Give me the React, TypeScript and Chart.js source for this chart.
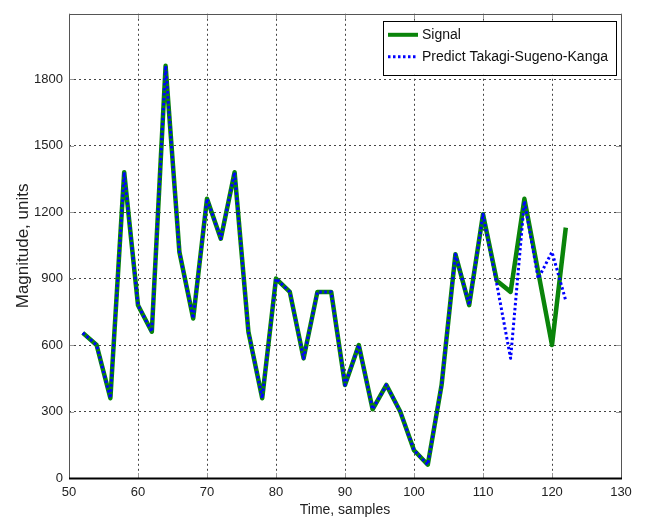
import React, { useEffect, useRef } from "react";
import { Chart, registerables } from "chart.js";

Chart.register(...registerables);

const samples = [52, 54, 56, 58, 60, 62, 64, 66, 68, 70, 72, 74, 76, 78, 80, 82, 84, 86, 88, 90, 92, 94, 96, 98, 100, 102, 104, 106, 108, 110, 112, 114, 116, 118, 120, 122];
const signal = [655, 600, 360, 1380, 780, 660, 1860, 1020, 720, 1260, 1080, 1380, 660, 360, 900, 840, 540, 840, 840, 420, 600, 310, 420, 300, 125, 60, 420, 1010, 780, 1190, 890, 840, 1260, 930, 600, 1130];
const predict = [655, 600, 360, 1380, 780, 660, 1860, 1020, 720, 1260, 1080, 1380, 660, 360, 900, 840, 540, 840, 840, 420, 600, 310, 420, 300, 125, 60, 420, 1010, 780, 1190, 875, 540, 1250, 900, 1020, 800];
const xTicks = [50, 60, 70, 80, 90, 100, 110, 120, 130];
const yTicks = [0, 300, 600, 900, 1200, 1500, 1800];
const seriesLabels = ["Signal", "Predict Takagi-Sugeno-Kanga"];
const xTitle = "Time, samples";
const yTitle = "Magnitude, units";

const GREEN = "#0a840a";
const BLUE = "#0000ff";
const FONT = "'Liberation Sans', Arial, Helvetica, sans-serif";

const framePlugin = {
  id: "frame",
  afterDatasetsDraw(chart: any) {
    const { ctx, chartArea: a, scales } = chart;
    ctx.save();
    ctx.lineWidth = 1;
    ctx.setLineDash([]);
    ctx.strokeStyle = "#999";
    const tl = 5;
    ctx.beginPath();
    for (const v of xTicks) {
      const x = Math.round(scales.x.getPixelForValue(v)) + 0.5;
      ctx.moveTo(x, a.top);
      ctx.lineTo(x, a.top + tl);
      ctx.moveTo(x, a.bottom);
      ctx.lineTo(x, a.bottom - tl);
    }
    for (const v of yTicks) {
      const y = Math.round(scales.y.getPixelForValue(v)) + 0.5;
      ctx.moveTo(a.left, y);
      ctx.lineTo(a.left + tl, y);
      ctx.moveTo(a.right, y);
      ctx.lineTo(a.right - tl, y);
    }
    ctx.stroke();
    ctx.strokeStyle = "#555";
    ctx.beginPath();
    ctx.moveTo(Math.round(a.left) + 0.5, Math.round(a.bottom));
    ctx.lineTo(Math.round(a.left) + 0.5, Math.round(a.top) + 0.5);
    ctx.lineTo(Math.round(a.right) + 0.5, Math.round(a.top) + 0.5);
    ctx.lineTo(Math.round(a.right) + 0.5, Math.round(a.bottom));
    ctx.stroke();
    ctx.strokeStyle = "#000";
    ctx.lineWidth = 2;
    ctx.beginPath();
    ctx.moveTo(a.left, Math.round(a.bottom) + 0.5);
    ctx.lineTo(a.right + 1, Math.round(a.bottom) + 0.5);
    ctx.stroke();
    ctx.restore();
  },
  afterDraw(chart: any) {
    const { ctx, chartArea: a } = chart;
    const w = 233;
    const h = 54;
    const x0 = a.right - 5 - w;
    const y0 = a.top + 7;
    ctx.save();
    ctx.fillStyle = "#fff";
    ctx.fillRect(x0, y0, w, h);
    ctx.strokeStyle = "#000";
    ctx.lineWidth = 1;
    ctx.setLineDash([]);
    ctx.strokeRect(Math.round(x0) + 0.5, Math.round(y0) + 0.5, w, h);
    const rows = [y0 + 14, y0 + 36];
    ctx.strokeStyle = GREEN;
    ctx.lineWidth = 4;
    ctx.beginPath();
    ctx.moveTo(x0 + 5, rows[0]);
    ctx.lineTo(x0 + 35, rows[0]);
    ctx.stroke();
    ctx.strokeStyle = BLUE;
    ctx.lineWidth = 3;
    ctx.setLineDash([2.5, 2.5]);
    ctx.beginPath();
    ctx.moveTo(x0 + 5, rows[1]);
    ctx.lineTo(x0 + 33, rows[1]);
    ctx.stroke();
    ctx.setLineDash([]);
    ctx.fillStyle = "#111";
    ctx.font = "14px " + FONT;
    ctx.textBaseline = "middle";
    ctx.textAlign = "left";
    ctx.fillText(seriesLabels[0], x0 + 39, rows[0]);
    ctx.fillText(seriesLabels[1], x0 + 39, rows[1]);
    ctx.restore();
  },
};

export default function App() {
  const ref = useRef<HTMLCanvasElement | null>(null);
  useEffect(() => {
    if (!ref.current) return;
    const chart = new Chart(ref.current, {
      type: "line",
      data: {
        datasets: [
          {
            label: seriesLabels[0],
            data: samples.map((s, i) => ({ x: s, y: signal[i] })),
            borderColor: GREEN,
            backgroundColor: GREEN,
            borderWidth: 4.5,
            pointRadius: 0,
            tension: 0,
            order: 2,
            borderJoinStyle: "round",
          },
          {
            label: seriesLabels[1],
            data: samples.map((s, i) => ({ x: s, y: predict[i] })),
            borderColor: BLUE,
            backgroundColor: BLUE,
            borderWidth: 3,
            borderDash: [2.5, 2.5],
            borderJoinStyle: "round",
            pointRadius: 0,
            tension: 0,
            order: 1,
          },
        ],
      },
      options: {
        responsive: false,
        animation: false,
        layout: { padding: { top: 10, right: 25, left: 0, bottom: 0 } },
        plugins: { legend: { display: false }, tooltip: { enabled: false } },
        scales: {
          x: {
            type: "linear",
            min: 50,
            max: 130,
            afterBuildTicks: (s: any) => {
              s.ticks = xTicks.map((v) => ({ value: v }));
            },
            afterFit: (s: any) => {
              s.height = 45;
            },
            grid: { color: "#444", lineWidth: 1, drawTicks: false },
            border: { display: false, dash: [2, 3] },
            ticks: {
              padding: 7,
              color: "#222",
              font: { family: FONT, size: 13 },
              maxRotation: 0,
              callback: (v: any) => String(v),
            },
            title: {
              display: true,
              text: xTitle,
              color: "#222",
              font: { family: FONT, size: 14 },
              padding: { top: 0, bottom: 4 },
            },
          },
          y: {
            type: "linear",
            min: 0,
            max: 2095,
            afterBuildTicks: (s: any) => {
              s.ticks = yTicks.map((v) => ({ value: v }));
            },
            afterFit: (s: any) => {
              s.width = 69;
            },
            grid: { color: "#444", lineWidth: 1, drawTicks: false },
            border: { display: false, dash: [2, 3] },
            ticks: {
              padding: 6,
              color: "#222",
              font: { family: FONT, size: 13 },
              callback: (v: any) => String(v),
            },
            title: {
              display: true,
              text: yTitle,
              color: "#222",
              font: { family: FONT, size: 17 },
              padding: { top: 13, bottom: 0 },
            },
          },
        },
      },
      plugins: [framePlugin],
    } as any);
    return () => chart.destroy();
  }, []);
  return (
    <div style={{ position: "fixed", left: 0, top: 0, width: 646, height: 523, background: "#fff" }}>
      <canvas ref={ref} width={646} height={523} style={{ display: "block" }} />
    </div>
  );
}
